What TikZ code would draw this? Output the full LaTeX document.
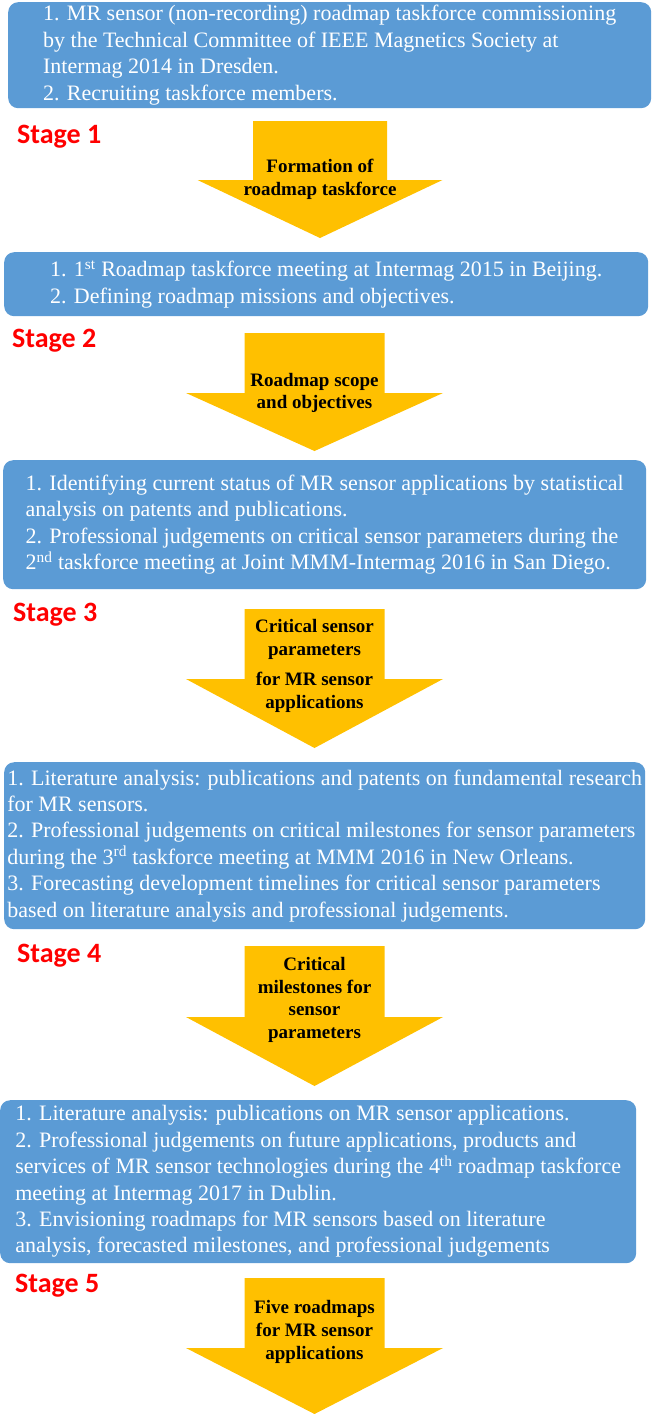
\documentclass[tikz,border=0pt]{standalone}
\usepackage{fontspec}
\setmainfont{Liberation Serif}
\newfontfamily\stagefont{Carlito}
\usetikzlibrary{positioning}
\definecolor{boxblue}{HTML}{5B9BD5}
\definecolor{arrowgold}{HTML}{FFC000}
\definecolor{stagered}{HTML}{FF0000}

\begin{document}
\begin{tikzpicture}[
  x=1pt,y=-1pt,
  task/.style={fill=boxblue,rounded corners=10pt,text=white,align=left,anchor=north west,
    inner sep=0pt,font=\fontsize{22}{26.4}\selectfont},
  stage/.style={anchor=base west,inner sep=0pt,text=stagered,font=\stagefont\bfseries\fontsize{28}{30}\selectfont},
  gist/.style={align=center,inner sep=0pt,font=\bfseries\fontsize{19}{22.7}\selectfont}
]
\useasboundingbox (0,0) rectangle (654,1414);

% block arrows: centre x / half shaft / half head / top / shoulder / tip
\foreach \cx/\hs/\hh/\ya/\yb/\yc in {320/67/122.5/121/180/238, 314.5/70/128.5/333/393/451,
    314.5/70/128.5/609/679/748, 314.5/70/128.5/946/1017/1086, 314.5/70/128.5/1278/1348/1414}
  \fill[arrowgold] (\cx-\hs,\ya) -- (\cx+\hs,\ya) -- (\cx+\hs,\yb) -- (\cx+\hh,\yb)
    -- (\cx,\yc) -- (\cx-\hh,\yb) -- (\cx-\hs,\yb) -- cycle;

% stage 1
\node[task,minimum width=643,minimum height=106] (b1) at (8,2)
  {1. MR sensor (non-recording) roadmap taskforce commissioning\\
   by the Technical Committee of IEEE Magnetics Society at\\
   Intermag 2014 in Dresden.\\
   2. Recruiting taskforce members.};
\node[stage] (s1) at (17,143) {Stage 1};
\node[gist] (g1) at (320,179) {Formation of\\roadmap taskforce};

% stage 2
\node[task,minimum width=644,minimum height=64] (b2) at (4,252)
  {1. 1\textsuperscript{st} Roadmap taskforce meeting at Intermag 2015 in Beijing.\\
   2. Defining roadmap missions and objectives.};
\node[stage] (s2) at (12,347) {Stage 2};
\node[gist] (g2) at (314.5,393) {Roadmap scope\\and objectives};

% stage 3
\node[task,minimum width=643,minimum height=129] (b3) at (3,460)
  {1. Identifying current status of MR sensor applications by statistical\\
   analysis on patents and publications.\\
   2. Professional judgements on critical sensor parameters during the\\
   2\textsuperscript{nd} taskforce meeting at Joint MMM-Intermag 2016 in San Diego.};
\node[stage] (s3) at (13,621) {Stage 3};
\node[gist] (g3) at (314.5,666) {Critical sensor\\parameters\\[8pt]for MR sensor\\applications};

% stage 4
\node[task,minimum width=641,minimum height=167] (b4) at (4,762)
  {1. Literature analysis: publications and patents on fundamental research\\
   for MR sensors.\\
   2. Professional judgements on critical milestones for sensor parameters\\
   during the 3\textsuperscript{rd} taskforce meeting at MMM 2016 in New Orleans.\\
   3. Forecasting development timelines for critical sensor parameters\\
   based on literature analysis and professional judgements.};
\node[stage] (s4) at (17,962) {Stage 4};
\node[gist] (g4) at (314.5,1000) {Critical\\milestones for\\sensor\\parameters};

% stage 5
\node[task,minimum width=636,minimum height=163] (b5) at (0,1100)
  {1. Literature analysis: publications on MR sensor applications.\\
   2. Professional judgements on future applications, products and\\
   services of MR sensor technologies during the 4\textsuperscript{th} roadmap taskforce\\
   meeting at Intermag 2017 in Dublin.\\
   3. Envisioning roadmaps for MR sensors based on literature\\
   analysis, forecasted milestones, and professional judgements};
\node[stage] (s5) at (15,1292) {Stage 5};
\node[gist] (g5) at (314.5,1332) {Five roadmaps\\for MR sensor\\applications};
\end{tikzpicture}
\end{document}
